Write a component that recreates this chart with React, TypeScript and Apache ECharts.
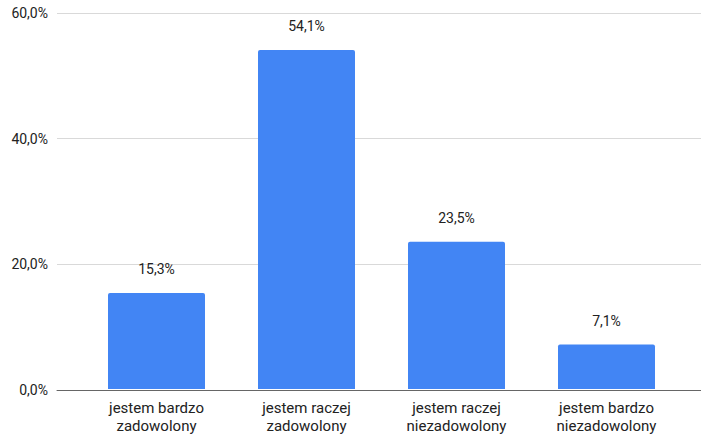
import React, { useEffect, useRef } from "react";
import * as echarts from "echarts";

const categories = [
  "jestem bardzo\nzadowolony",
  "jestem raczej\nzadowolony",
  "jestem raczej\nniezadowolony",
  "jestem bardzo\nniezadowolony",
];
const values = [15.3, 54.1, 23.5, 7.1];
const yMin = 0;
const yMax = 60;
const yInterval = 20;

const fmt = (v: number) => v.toFixed(1).replace(".", ",") + "%";

export default function App() {
  const ref = useRef<HTMLDivElement>(null);
  useEffect(() => {
    if (!ref.current) return;
    const chart = echarts.init(ref.current, undefined, { renderer: "svg" });
    const font = "Roboto, Arial, sans-serif";
    chart.setOption({
      animation: false,
      grid: [
        { left: 57, right: 0, top: 13, bottom: 45 },
        { left: 81.5, right: 19.5, top: 13, bottom: 45 },
      ],
      xAxis: [
        {
          gridIndex: 0,
          type: "value",
          min: 0,
          max: 1,
          axisLine: { show: true, onZero: false, lineStyle: { color: "#666", width: 1 } },
          axisTick: { show: false },
          axisLabel: { show: false },
          splitLine: { show: false },
        },
        {
          gridIndex: 1,
          type: "category",
          data: categories,
          axisLine: { show: false },
          axisTick: { show: false },
          axisLabel: {
            color: "#222",
            fontFamily: font,
            fontSize: 15,
            lineHeight: 18,
            margin: 10,
            interval: 0,
          },
        },
      ],
      yAxis: [
        {
          gridIndex: 0,
          type: "value",
          min: yMin,
          max: yMax,
          interval: yInterval,
          axisLine: { show: false },
          axisTick: { show: false },
          axisLabel: {
            color: "#222",
            fontFamily: font,
            fontSize: 14,
            margin: 9,
            formatter: (v: number) => fmt(v),
          },
          splitLine: { lineStyle: { color: "#d9d9d9", width: 1 } },
        },
        {
          gridIndex: 1,
          type: "value",
          min: yMin,
          max: yMax,
          interval: yInterval,
          show: false,
        },
      ],
      series: [
        {
          type: "bar",
          xAxisIndex: 1,
          yAxisIndex: 1,
          data: values,
          barWidth: 97,
          itemStyle: { color: "#4285F4", borderRadius: [2, 2, 0, 0] },
          label: {
            show: true,
            position: "top",
            distance: 17,
            color: "#222",
            fontFamily: font,
            fontSize: 14,
            formatter: (p: any) => fmt(p.value),
          },
        },
      ],
    });
    return () => chart.dispose();
  }, []);
  return <div ref={ref} style={{ width: 701, height: 435, position: "absolute", left: 0, top: 0 }} />;
}
